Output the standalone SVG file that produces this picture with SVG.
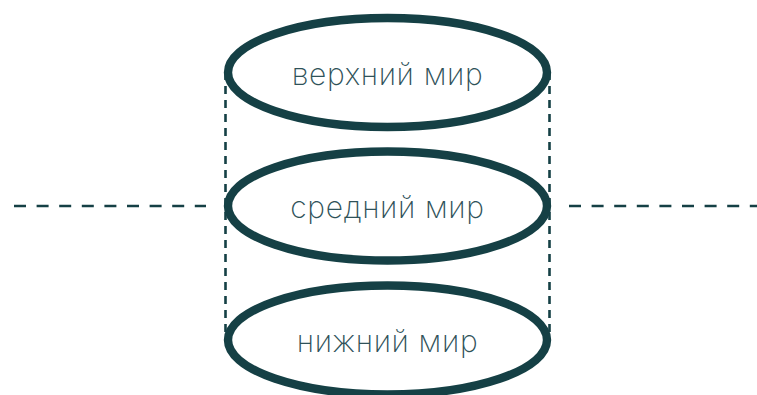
<svg xmlns="http://www.w3.org/2000/svg" width="757" height="395" viewBox="0 0 757 395">
<style>
.w{fill:none;stroke:#154045;stroke-width:8.4}
.d{fill:none;stroke:#154045;stroke-width:2.6;stroke-dasharray:12 10.6}
.v{fill:none;stroke:#154045;stroke-width:2.6;stroke-dasharray:8 6}
text{font-family:"Inter","Noto Sans",sans-serif;font-weight:200;font-size:30px;letter-spacing:.65px;fill:#2f5259;text-anchor:middle}
</style>
<rect width="757" height="395" fill="#fff"/>
<g id="connectors">
<path class="d" d="M14 206H206"/>
<path class="d" d="M569 206H757"/>
<path class="v" d="M225.500 72V340"/>
<path class="v" d="M549.500 72V340"/>
</g>
<g id="upper"><ellipse class="w" cx="387.500" cy="72.500" rx="159.500" ry="54.500"/><text x="387.500" y="85">верхний мир</text></g>
<g id="middle"><ellipse class="w" cx="387.500" cy="206" rx="159.500" ry="54.500"/><text x="387.500" y="218">средний мир</text></g>
<g id="lower"><ellipse class="w" cx="387.500" cy="340" rx="159.500" ry="54.500"/><text x="387.500" y="352">нижний мир</text></g>
</svg>
